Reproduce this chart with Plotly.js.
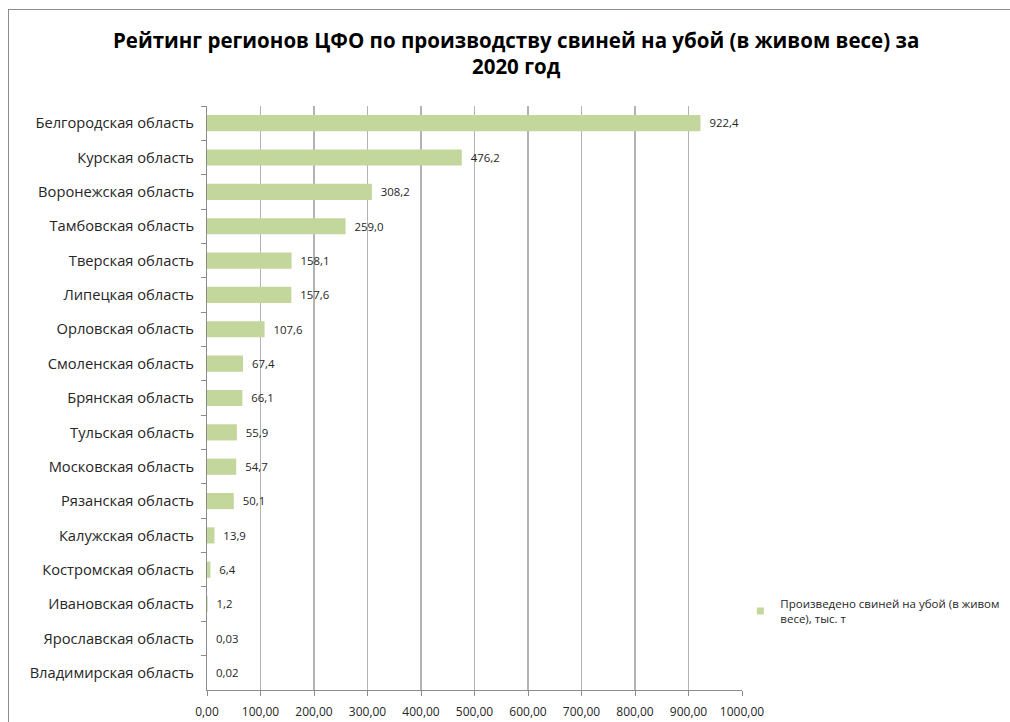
<!DOCTYPE html>
<html>
<head>
<meta charset="utf-8">
<script src="https://cdn.plot.ly/plotly-3.0.1.min.js"></script>
<style>
html,body{margin:0;padding:0;background:#fff;overflow:hidden;}
#frame{position:absolute;left:8px;top:9px;width:1100px;height:800px;border:1px solid #8c8c8c;box-sizing:border-box;}
#chart{position:absolute;left:0;top:0;width:1010px;height:722px;}
</style>
</head>
<body>
<div id="frame"></div>
<div id="chart"></div>
<script>
const regions = [
  "Белгородская область","Курская область","Воронежская область","Тамбовская область",
  "Тверская область","Липецкая область","Орловская область","Смоленская область",
  "Брянская область","Тульская область","Московская область","Рязанская область",
  "Калужская область","Костромская область","Ивановская область","Ярославская область",
  "Владимирская область"
];
const values = [922.4, 476.2, 308.2, 259.0, 158.1, 157.6, 107.6, 67.4, 66.1, 55.9, 54.7, 50.1, 13.9, 6.4, 1.2, 0.03, 0.02];
const tickValues = [0,100,200,300,400,500,600,700,800,900,1000];
const tickLabels = ["0,00","100,00","200,00","300,00","400,00","500,00","600,00","700,00","800,00","900,00","1000,00"];
const seriesName = "Произведено свиней на убой (в живом<br>весе), тыс. т";
const barColor = '#c3d69b';

// data labels with comma decimals, a small lead-in gap as in the original
const labels = values.map(v => '\u00a0\u00a0' + (v < 1 ? v.toFixed(2) : v.toFixed(1)).replace('.', ','));

const bars = {
  type: 'bar',
  orientation: 'h',
  y: regions,
  x: values,
  name: seriesName,
  marker: {color: barColor},
  text: labels,
  textposition: 'outside',
  cliponaxis: false,
  textfont: {family: 'Open Sans, sans-serif', size: 12, color: '#262626'},
  hoverinfo: 'none',
  showlegend: false
};

// legend entry with a small square swatch, like the original
const legendProxy = {
  type: 'scatter',
  mode: 'markers',
  x: [null],
  y: [null],
  name: seriesName,
  marker: {symbol: 'square', size: 7, color: barColor},
  hoverinfo: 'none',
  showlegend: true
};

const layout = {
  width: 1010, height: 722,
  paper_bgcolor: 'rgba(0,0,0,0)',
  plot_bgcolor: 'rgba(0,0,0,0)',
  margin: {l: 207, r: 268, t: 106, b: 32, autoexpand: false},
  bargap: 0.53,
  font: {family: 'Open Sans, sans-serif', color: '#262626'},
  title: {
    text: '<b>Рейтинг регионов ЦФО по производству свиней на убой (в живом весе) за<br>2020 год</b>',
    font: {family: 'Open Sans, sans-serif', size: 20.5, color: '#000'},
    x: 0.511, xanchor: 'center', y: 0.934, yanchor: 'top'
  },
  xaxis: {
    range: [0, 1000],
    tickvals: tickValues,
    ticktext: tickLabels,
    tickfont: {size: 12, color: '#262626'},
    showgrid: true, gridcolor: '#b3b3b3', gridwidth: 1.5,
    showline: true, linecolor: '#8c8c8c', linewidth: 1,
    ticks: 'outside', ticklen: 5, tickcolor: '#8c8c8c',
    ticklabelstandoff: 6,
    zeroline: false, fixedrange: true
  },
  yaxis: {
    autorange: 'reversed',
    tickfont: {size: 14.7, color: '#262626'},
    showline: true, linecolor: '#8c8c8c', linewidth: 1,
    ticks: 'outside', ticklen: 5, tickcolor: '#8c8c8c',
    tickson: 'boundaries',
    ticklabelstandoff: 9,
    showgrid: false, zeroline: false, fixedrange: true
  },
  legend: {
    xref: 'container', yref: 'container',
    x: 0.733, xanchor: 'left', y: 0.1835, yanchor: 'top',
    font: {size: 11.5, color: '#262626'},
    itemwidth: 30,
    bgcolor: 'rgba(0,0,0,0)'
  },
  showlegend: true
};

Plotly.newPlot('chart', [bars, legendProxy], layout, {displayModeBar: false, staticPlot: true});
</script>
</body>
</html>
